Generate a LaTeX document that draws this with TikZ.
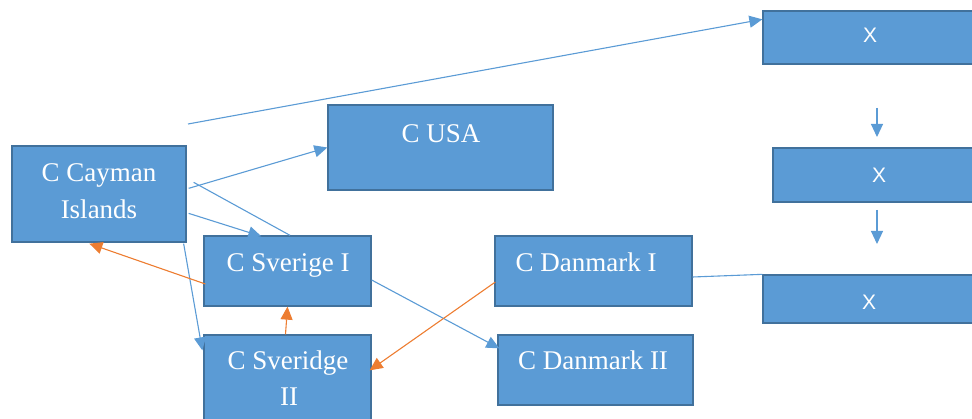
\documentclass[tikz,border=0pt]{standalone}
\usepackage{fontspec}
\setmainfont{Liberation Serif}
\newfontfamily\xsans{Liberation Sans}
\usetikzlibrary{arrows.meta,calc}
\definecolor{boxfill}{HTML}{5B9BD5}
\definecolor{boxline}{HTML}{41719C}
\definecolor{conblue}{HTML}{5B9BD5}
\definecolor{conorange}{HTML}{ED7D31}
\tikzset{
 box/.style={draw=boxline,fill=boxfill,line width=1.3pt,rectangle,inner sep=0pt},
 lbl/.style={text=white,anchor=base,font=\fontsize{27}{37}\selectfont,inner sep=0pt},
 xlbl/.style={text=white,anchor=base,font=\xsans\fontsize{21}{25}\selectfont,inner sep=0pt},
 blueline/.style={draw=conblue,line width=1.1pt},
 bluearr/.style={blueline,-{Triangle[length=13pt,width=12pt]}},
 orangearr/.style={draw=conorange,line width=1.1pt,-{Triangle[length=13pt,width=12pt]}},
}
\begin{document}
\begin{tikzpicture}[x=1pt,y=-1pt]
\useasboundingbox (0,0) rectangle (972,419);
\clip (0,0) rectangle (972,419);
% boxes
\node[box,minimum width=174pt,minimum height=96pt] (cay) at (99,194) {};
\node[box,minimum width=225pt,minimum height=85pt] (usa) at (440.5,147.5) {};
\node[box,minimum width=167pt,minimum height=70pt] (sv1) at (287.5,271) {};
\node[box,minimum width=167pt,minimum height=90pt] (sv2) at (287.5,380) {};
\node[box,minimum width=197pt,minimum height=70pt] (dk1) at (593.5,271) {};
\node[box,minimum width=195pt,minimum height=70pt] (dk2) at (595.5,370) {};
\node[box,minimum width=217pt,minimum height=53pt] (x1) at (871.5,37.5) {};
\node[box,minimum width=207pt,minimum height=54pt] (x2) at (876.5,175) {};
\node[box,minimum width=217pt,minimum height=48pt] (x3) at (871.5,299) {};
% labels
\node[lbl] (cayta) at (99,182) {C Cayman};
\node[lbl] (caytb) at (99,219) {Islands};
\node[lbl] (usat) at (441,143) {C USA};
\node[lbl] (sv1t) at (288,272) {C Sverige I};
\node[lbl] (sv2ta) at (288,370) {C Sveridge};
\node[lbl] (sv2tb) at (289,406) {II};
\node[lbl] (dk1t) at (586,272) {C Danmark I};
\node[lbl] (dk2t) at (593,370) {C Danmark II};
\node[xlbl] (x1t) at (870,43) {X};
\node[xlbl] (x2t) at (879,183) {X};
\node[xlbl] (x3t) at (869,310) {X};
% free coordinates
\coordinate (lstart) at (188,124);
\coordinate (a1s) at (877,108);
\coordinate (a1e) at (877,137);
\coordinate (a2s) at (877,210);
\coordinate (a2e) at (877,244);
% blue connectors
\draw[bluearr] (lstart) -- ($(x1.north west)+(0,9)$);
\draw[bluearr] ($(cay.north east)+(2,43)$) -- (usa.west);
\draw[blueline] ($(cay.north east)+(7,37)$) -- ($(sv1.north)+(2.5,0)$);
\draw[bluearr] ($(cay.north east)+(2,68)$) -- ($(sv1.north west)+(58,1)$);
\draw[bluearr] ($(cay.south east)+(-3,1)$) -- ($(sv2.north west)+(-1,16)$);
\draw[bluearr] ($(sv1.east)+(0,9)$) -- ($(dk2.north west)+(2,14)$);
\draw[blueline] ($(dk1.east)+(0,6)$) -- (x3.north west);
\draw[bluearr] (a1s) -- (a1e);
\draw[bluearr] (a2s) -- (a2e);
% orange connectors
\draw[orangearr] ($(sv1.west)+(2,13)$) -- ($(cay.south west)+(78,1)$);
\draw[orangearr] ($(sv2.north)+(-2,0)$) -- (sv1.south);
\draw[orangearr] ($(dk1.west)+(1,11)$) -- ($(sv2.north east)+(-2,36)$);
\end{tikzpicture}
\end{document}
